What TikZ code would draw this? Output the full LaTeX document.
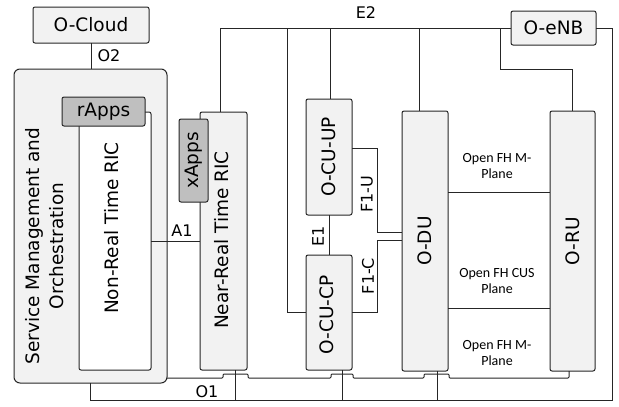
\documentclass[tikz,border=0pt]{standalone}
\usepackage{fontspec}
\setmainfont{DejaVu Sans}
\newfontfamily\smallfont{Carlito}
\definecolor{boxfill}{HTML}{F2F2F2}
\definecolor{appfill}{HTML}{BFBFBF}
\definecolor{ink}{HTML}{262626}
\begin{document}
\begin{tikzpicture}[x=1pt,y=-1pt,
  blk/.style={draw=ink, fill=boxfill, rounded corners=2pt, inner sep=0pt, outer sep=0pt, line width=1pt},
  app/.style={blk, fill=appfill},
  wbox/.style={blk, fill=white},
  big/.style={font=\fontsize{18.5}{24}\selectfont, text=black, inner sep=0pt},
  lab/.style={font=\fontsize{16}{19}\selectfont, text=black, inner sep=0pt},
  fh/.style={font=\smallfont\fontsize{14}{15.5}\selectfont, text=black, inner sep=0pt, align=center},
  wire/.style={draw=ink, line width=1pt}
]
\useasboundingbox (0,0) rectangle (619,407);
\fill[white] (0,0) rectangle (619,407);

% boxes
\node[blk, minimum width=116pt, minimum height=36pt] (ocloud) at (91,25) {};
\node[big] (ocloudt) at (ocloud.center) {O-Cloud};
\node[blk, rounded corners=6pt, minimum width=153pt, minimum height=314pt] (smo) at (90.5,226) {};
\node[wbox, minimum width=72pt, minimum height=258pt] (nrt) at (115,241) {};
\node[app, minimum width=83pt, minimum height=29pt] (rapps) at (103.5,111.5) {};
\node[big] (rappst) at (rapps.center) {rApps};
\node[big, rotate=90, align=center] (smot) at (45,246) {Service Management and\\Orchestration};
\node[big, rotate=90] (nrtt) at (112,228) {Non-Real Time RIC};

\node[blk, minimum width=47pt, minimum height=258pt] (nearrt) at (223.5,241) {};
\node[app, minimum width=29pt, minimum height=83pt] (xapps) at (193.5,160.5) {};
\node[big, rotate=90] (xappst) at (xapps.center) {xApps};
\node[big, rotate=90] (nearrtt) at (222,240) {Near-Real Time RIC};

\node[blk, minimum width=46pt, minimum height=116pt] (cuup) at (329,157) {};
\node[big, rotate=90] (cuupt) at (cuup.center) {O-CU-UP};
\node[blk, minimum width=46pt, minimum height=115pt] (cucp) at (329,312.5) {};
\node[big, rotate=90] (cucpt) at (327,315) {O-CU-CP};
\node[blk, minimum width=46pt, minimum height=260pt] (odu) at (425,241) {};
\node[big, rotate=90] (odut) at (odu.center) {O-DU};
\node[blk, minimum width=45pt, minimum height=260pt] (oru) at (572.5,241) {};
\node[big, rotate=90] (orut) at (oru.center) {O-RU};
\node[blk, minimum width=85pt, minimum height=34pt] (oenb) at (553.5,28) {};
\node[big] (oenbt) at (oenb.center) {O-eNB};

% O2
\draw[wire] (ocloud.south) -- (ocloud.south |- smo.north);
\node[lab] (o2) at (109,56) {O2};

% E2 bus
\coordinate (e2a) at (220,28);
\coordinate (j1) at (287,28);
\coordinate (j2) at (330,28);
\coordinate (j3) at (419,28);
\coordinate (j4) at (500,28);
\coordinate (j4b) at (500,69);
\draw[wire] (oenb.west) -- (e2a) -- (e2a |- nearrt.north);
\draw[wire] (j1) |- (cucp.west);
\draw[wire] (j2) -- (j2 |- cuup.north);
\draw[wire] (j3) -- (j3 |- odu.north);
\draw[wire] (j4) -- (j4b) -| (oru.north);
\node[lab] (e2) at (366,13) {E2};

% O1
\coordinate (o1c) at (612,400);
\coordinate (b1) at (235,400);
\coordinate (b2) at (342,400);
\coordinate (b3) at (437,400);
\draw[wire] (oenb.east) -| (o1c) -| (smo.south);
\draw[wire] (b1) -- (b1 |- nearrt.south);
\draw[wire] (b2) -- (b2 |- cucp.south);
\draw[wire] (b3) -- (b3 |- odu.south);
\node[lab] (o1) at (207,392) {O1};

% A1
\draw[wire] (nrt.east) -- (nearrt.west);
\node[lab] (a1) at (182,231) {A1};

% E1
\draw[wire] (cuup.south) -- (cucp.north);
\node[lab, rotate=90] (e1) at (318,236) {E1};

% F1-U / F1-C
\coordinate (f1ub) at (377,148);
\coordinate (f1uc) at (377,232);
\coordinate (f1cb) at (377,240);
\draw[wire] (cuup.east |- f1ub) -- (f1ub) -- (f1uc) -- (odu.west |- f1uc);
\draw[wire] (cucp.east) -| (f1cb) -- (odu.west |- f1cb);
\node[lab, rotate=90] (f1u) at (367,194) {F1-U};
\node[lab, rotate=90] (f1c) at (368,276) {F1-C};

% Open FH
\coordinate (fh1) at (0,192);
\coordinate (fh2) at (0,308);
\draw[wire] (odu.east |- fh1) -- (oru.west |- fh1);
\draw[wire] (odu.east |- fh2) -- (oru.west |- fh2);
\node[fh] (fhm1) at (497,166) {Open FH M-\\Plane};
\node[fh] (fhcus) at (497,281) {Open FH CUS\\Plane};
\node[fh] (fhm2) at (497,353) {Open FH M-\\Plane};

% SMO to O-RU with line hops
\coordinate (mp0) at (167,378);
\coordinate (mpe) at (569,371);
\draw[wire, rounded corners=1pt] (smo.east |- mp0) -- (223,378) -- (223,374) -- (248,374) -- (248,378)
  -- (331,378) -- (331,374) -- (353,374) -- (353,378)
  -- (424,378) -- (424,374) -- (449,374) -- (449,378)
  -- (569,378) -- (mpe);
\end{tikzpicture}
\end{document}
